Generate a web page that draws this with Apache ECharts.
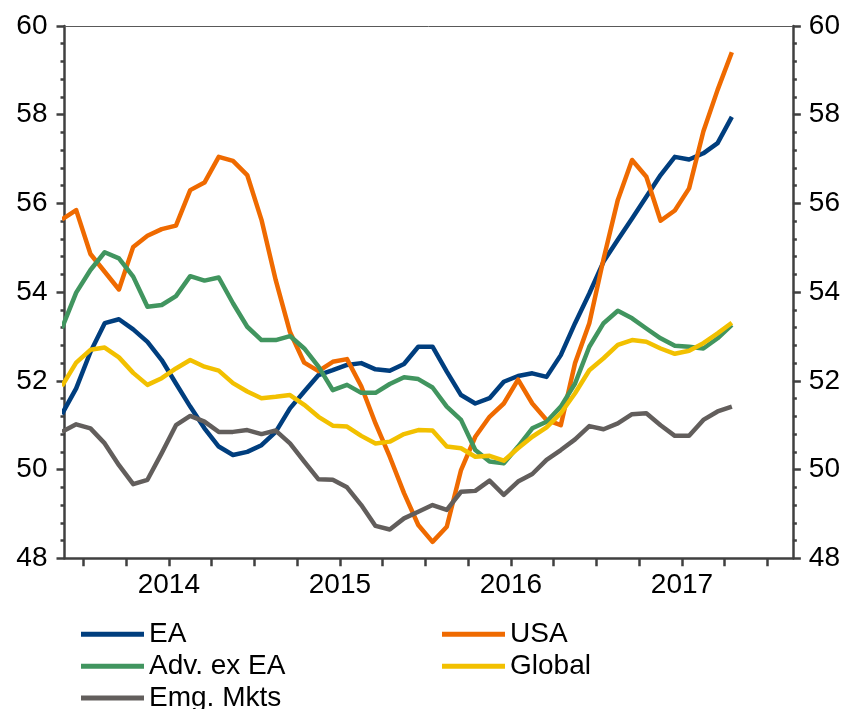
<!DOCTYPE html>
<html>
<head>
<meta charset="utf-8">
<script src="https://cdn.jsdelivr.net/npm/echarts@6/dist/echarts.min.js"></script>
<style>
html,body{margin:0;padding:0;background:#fff;}
#chart{width:843px;height:709px;}
</style>
</head>
<body>
<div id="chart"></div>
<script>
// Monthly, Nov 2013 .. Oct 2017
const months = [
 '2013-11','2013-12',
 '2014-01','2014-02','2014-03','2014-04','2014-05','2014-06','2014-07','2014-08','2014-09','2014-10','2014-11','2014-12',
 '2015-01','2015-02','2015-03','2015-04','2015-05','2015-06','2015-07','2015-08','2015-09','2015-10','2015-11','2015-12',
 '2016-01','2016-02','2016-03','2016-04','2016-05','2016-06','2016-07','2016-08','2016-09','2016-10','2016-11','2016-12',
 '2017-01','2017-02','2017-03','2017-04','2017-05','2017-06','2017-07','2017-08','2017-09','2017-10'
];
const yearLabels = ['2014','2015','2016','2017'];

const EA = [51.25,51.83,52.65,53.30,53.39,53.16,52.88,52.47,51.94,51.42,50.93,50.52,50.33,50.40,
 50.55,50.85,51.38,51.76,52.13,52.24,52.36,52.40,52.26,52.23,52.38,52.77,
 52.77,52.21,51.68,51.49,51.61,51.98,52.11,52.17,52.09,52.58,53.30,53.97,
 54.69,55.18,55.66,56.15,56.64,57.05,56.99,57.13,57.36,57.95];
const USA = [55.64,55.85,54.86,54.46,54.06,55.02,55.27,55.42,55.50,56.30,56.47,57.05,56.96,56.64,
 55.63,54.27,53.10,52.41,52.22,52.43,52.49,51.88,51.04,50.29,49.47,48.75,
 48.37,48.71,49.99,50.74,51.19,51.49,52.03,51.49,51.12,51.00,52.40,53.30,
 54.75,56.08,56.98,56.60,55.61,55.84,56.34,57.62,58.56,59.41];
const ADV = [53.19,53.99,54.50,54.90,54.76,54.35,53.67,53.71,53.91,54.36,54.26,54.33,53.75,53.22,
 52.92,52.92,53.01,52.73,52.32,51.79,51.91,51.73,51.73,51.93,52.08,52.04,
 51.85,51.42,51.12,50.44,50.18,50.14,50.52,50.93,51.08,51.42,51.94,52.77,
 53.30,53.58,53.41,53.18,52.96,52.79,52.77,52.73,52.96,53.26];
const GLOBAL = [51.88,52.41,52.70,52.75,52.53,52.18,51.91,52.06,52.28,52.47,52.32,52.23,51.95,51.76,
 51.61,51.64,51.68,51.46,51.19,50.99,50.97,50.76,50.59,50.63,50.80,50.89,
 50.88,50.52,50.48,50.29,50.31,50.20,50.48,50.74,50.95,51.27,51.72,52.24,
 52.51,52.81,52.92,52.88,52.73,52.61,52.68,52.85,53.07,53.31];
const EMG = [50.85,51.02,50.93,50.59,50.10,49.67,49.77,50.37,51.00,51.21,51.08,50.85,50.85,50.89,
 50.80,50.88,50.59,50.18,49.78,49.77,49.60,49.20,48.73,48.65,48.90,49.05,
 49.20,49.09,49.50,49.52,49.75,49.43,49.73,49.90,50.22,50.44,50.68,50.98,
 50.91,51.04,51.25,51.27,51.00,50.76,50.76,51.12,51.31,51.42];

// x position: months since Jan 2014, at mid-month
function monthPos(s){const p=s.split('-');return (+p[0]-2014)*12+(+p[1]-1)+0.5;}
function pairs(vals){return vals.map((v,i)=>[monthPos(months[i]),v]);}

const FONT = 'Liberation Sans, Arial, sans-serif';
const FS = 28;
const AX = '#404040';
const quarterTicks = []; for(let q=0;q<=48;q+=3) quarterTicks.push(q);
const yearCenters = yearLabels.map((y,i)=>i*12+6);

const chart = echarts.init(document.getElementById('chart'), null, {renderer:'canvas'});
const seriesDefs = [
  {name:'EA', data:EA, color:'#003e7e'},
  {name:'USA', data:USA, color:'#ef6a00'},
  {name:'Adv. ex EA', data:ADV, color:'#41955f'},
  {name:'Global', data:GLOBAL, color:'#f2c000'},
  {name:'Emg. Mkts', data:EMG, color:'#625e5c'}
];
function yAxisDef(pos, margin){
  return {
    type:'value', position:pos, min:48, max:60, interval:2,
    splitLine:{show:false},
    axisLine:{show:true, onZero:false, lineStyle:{color:AX, width:2.5}},
    axisTick:{show:true, inside:false, length:8, lineStyle:{color:AX, width:2.5}},
    minorTick:{show:true, splitNumber:5, length:4, lineStyle:{color:AX, width:2.5}},
    axisLabel:{color:'#000', fontFamily:FONT, fontSize:FS, margin:margin}
  };
}
// legend slots: [name, left, row centre y]
const legendSlots = [
  ['EA', 76, 631.7], ['USA', 437, 631.7],
  ['Adv. ex EA', 76, 663.7], ['Global', 437, 663.7],
  ['Emg. Mkts', 76, 695.5]
];
const legends = legendSlots.map(s=>({
  orient:'horizontal', left:s[1], top:s[2]-16.5, itemWidth:63, itemHeight:5, icon:'rect',
  data:[s[0]],
  textStyle:{color:'#000', fontFamily:FONT, fontSize:FS, padding:[0,0,0,0]}
}));
chart.setOption({
  animation:false,
  backgroundColor:'#fff',
  grid:{left:64.5, right:49, top:26, bottom:150.7, containLabel:false},
  xAxis:[{
    type:'value', min:-1.32, max:49.78,
    splitLine:{show:false},
    axisLine:{show:true, onZero:false, lineStyle:{color:AX, width:2.5}},
    axisTick:{show:true, customValues:quarterTicks, length:8, lineStyle:{color:AX, width:2.5}},
    axisLabel:{show:true, customValues:yearCenters, margin:13, color:'#000', fontFamily:FONT, fontSize:FS,
      formatter:function(v){return yearLabels[Math.round((v-6)/12)];}}
  },{
    type:'value', position:'top', min:-1.32, max:49.78,
    splitLine:{show:false},
    axisLine:{show:true, onZero:false, lineStyle:{color:'#595959', width:1}},
    axisTick:{show:false}, axisLabel:{show:false}
  }],
  yAxis:[yAxisDef('left',17), yAxisDef('right',16)],
  legend:legends,
  series: seriesDefs.map(s=>({
    name:s.name, type:'line', data:pairs(s.data), xAxisIndex:0, yAxisIndex:0,
    symbol:'none', smooth:false, clip:true,
    lineStyle:{color:s.color, width:4.5, join:'round'},
    itemStyle:{color:s.color}
  }))
});
</script>
</body>
</html>
